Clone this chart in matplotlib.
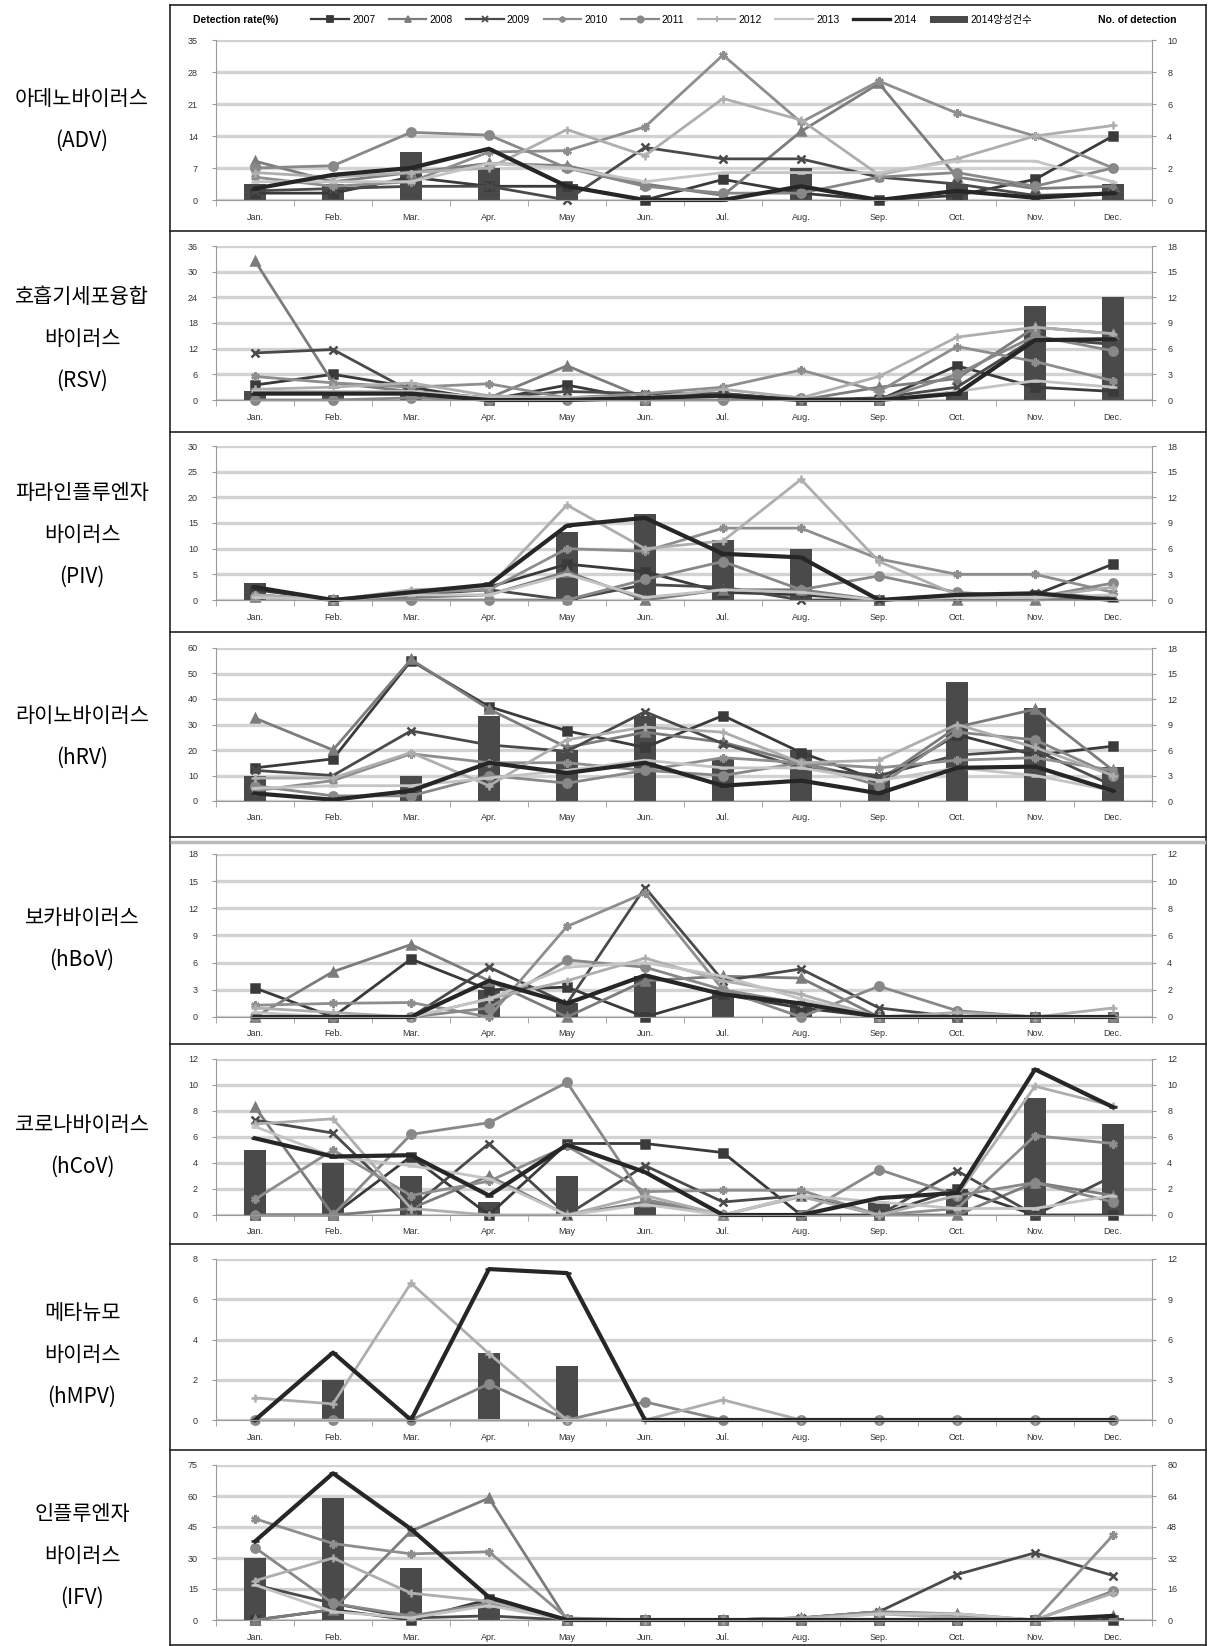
import numpy as np
import matplotlib.pyplot as plt
from matplotlib.lines import Line2D
from matplotlib.patches import Patch

plt.rcParams['font.family'] = ['Liberation Sans', 'Noto Sans CJK KR', 'DejaVu Sans']

na = np.nan
months = ['Jan.', 'Feb.', 'Mar.', 'Apr.', 'May', 'Jun.', 'Jul.', 'Aug.', 'Sep.', 'Oct.', 'Nov.', 'Dec.']
years = ['2007', '2008', '2009', '2010', '2011', '2012', '2013', '2014']
bar_label = '2014양성건수'

# detection rate (%) per year, rows 2007..2014
adv_rates = [
    [1.5, 1.5, 5, 3, 3, 0, 4.5, 1.5, 0, 1, 4.5, 14],
    [8.5, 4, 6, 8, 7.5, 3.5, 1, 15, 25.5, 5, 2.5, 3],
    [2, 2.5, 3, 3, 0, 11.5, 9, 9, 5, 3.5, 1, 1.5],
    [5, 3, 4, 10.5, 10.8, 16, 31.7, 17, 26, 19, 14, 7],
    [7, 7.5, 14.8, 14.2, 7, 3, 1.5, 1.5, 5, 6, 3, 7],
    [6, 5, 6, 7, 15.4, 9.7, 22.2, 17.5, 5.5, 9, 14, 16.3],
    [4, 4, 4, 8, 7, 4, 6, 6, 6, 8.5, 8.5, 4],
    [2.5, 5.5, 7, 11.2, 3, 0, 0, 3, 0, 2, 0.5, 1.5],
]
adv_counts = [1, 1, 3, 2, 1, 0, 0, 2, 0, 1, 0, 1]

rsv_rates = [
    [3.5, 6, 3, 0, 3.5, 0, 1.5, 0, 0, 8, 3, 2],
    [32.5, 4, 2, 0.5, 8, 0.5, 1, 0, 3, 5, 17, 15.5],
    [11, 11.8, 2, 0.5, 2, 1.5, 1.5, 0, 0.5, 3, 14.5, 13],
    [5.5, 4, 3, 3.8, 0.5, 1.5, 3, 7, 2, 12.5, 9, 4.5],
    [0, 0, 0.5, 0, 0, 0, 0, 0.5, 0, 6, 15, 11.5],
    [2.5, 3, 4, 1, 0.5, 0.5, 2.5, 0.5, 5.5, 14.7, 17, 15.5],
    [2, 2, 2, 0.5, 0.5, 0.5, 1, 0, 0, 2, 4.5, 3],
    [1.5, 1.5, 1.5, 0, 0, 0.5, 1, 0, 0, 1.5, 14, 14.2],
]
rsv_counts = [1, 1, 1, 0, 0, 0, 0, 0, 0, 1, 11, 12]

piv_rates = [
    [2, 0, 1, 2.5, 7, 5.5, 1.5, 1, 0, 1, 1, 7],
    [0.5, 0, 0.5, 1, 5.5, 0, 2, 2, 0, 0, 0, 0.5],
    [1, 0, 1, 2, 0, 3, 2.5, 0, 0, 0.5, 1.3, 0.5],
    [1, 0, 1.5, 2, 10, 9.5, 14, 14, 8, 5, 5, 1.5],
    [0.5, 0, 0, 0, 0, 4, 7.5, 2, 4.7, 1.5, 0.5, 3.3],
    [1, 0, 2, 2.5, 18.5, 10, 11.5, 23.5, 7.5, 1, 0.5, 2.5],
    [0.5, 0, 1, 1, 5, 0.5, 2, 1.5, 0, 0.5, 0.5, 1],
    [2.5, 0, 1.5, 3, 14.5, 16, 9, 8.3, 0, 1, 1.3, 0],
]
piv_counts = [2, 0, 0, 0, 8, 10, 7, 6, 0, 0, 0, 0]

hrv_rates = [
    [13, 16.5, 55, 37, 27.5, 21, 33.5, 19, 8, 26, 18, 21.5],
    [32.5, 20, 55.5, 36, 21, 27, 23, 15, 8, 29, 36, 12],
    [12, 10, 27.5, 22, 19.5, 35, 22.5, 13, 10, 18, 20, 6],
    [4, 8, 18.5, 15, 15, 12, 17, 15, 13, 16, 17, 12],
    [6, 2, 2, 10, 7, 12, 10, 15, 6, 27, 24, 10],
    [9, 9, 19, 6, 24, 29, 27, 15, 16, 30, 21, 10],
    [5, 6, 6, 9, 12, 16, 13, 13, 8, 13, 10, 4],
    [3, 0.5, 4, 15, 11, 15, 6, 8, 3, 13, 13.5, 4],
]
hrv_counts = [3, 0, 3, 10, 6, 10, 5, 6, 3, 14, 11, 4]

hbov_rates = [
    [3.2, 0, 6.4, 3, 3.3, 0, 2.5, 1, 0, 0, 0, 0],
    [0, 5, 8, 4, 0, 4, 4.5, 4.3, 0, 0, 0, 0],
    [0, 0, 0, 5.5, 1.5, 14.3, 4, 5.3, 1, 0, 0, 0],
    [1.3, 1.5, 1.6, 0, 10, 13.7, 3, 1.5, 0, 0, 0, 0],
    [0, 0, 0, 1, 6.3, 5.5, 3, 0, 3.4, 0.7, 0, 0],
    [1, 0.5, 0, 2, 4, 6.5, 4, 2.5, 0, 0.5, 0, 1],
    [0.5, 0, 0, 2, 5.5, 6, 4.5, 2, 0, 0, 0, 0],
    [0, 0, 0, 4, 1.5, 4.6, 2.5, 1.5, 0, 0, 0, 0],
]
hbov_counts = [0, 0, 0, 2, 1, 3, 2, 1, 0, 0, 0, 0]

hcov_rates = [
    [0, 0, 4.5, 0, 5.5, 5.5, 4.8, 0, 0, 2, 0, 0],
    [8.3, 0, 0.5, 3, 0, 1, 0, 1.5, 0, 0, 2.5, 1.5],
    [7.3, 6.3, 0.5, 5.5, 0, 3.8, 1, 1.5, 0, 3.4, 0, 3],
    [1.2, 5, 1.5, 2.6, 5.3, 1.8, 1.9, 1.9, 0, 0.5, 6.1, 5.5],
    [0, 0, 6.2, 7.1, 10.2, 1.2, 0, 0, 3.5, 1.5, 2.5, 1],
    [7, 7.4, 0.5, 0, 0, 1.5, 0, 1.4, 0, 1.5, 9.9, 8.4],
    [6.8, 4.5, 3.8, 2.8, 0, 0.8, 0, 1.5, 1, 0.5, 0.5, 1.5],
    [5.9, 4.5, 4.6, 1.5, 5.4, 3.3, 0, 0, 1.3, 1.7, 11.2, 8.3],
]
hcov_counts = [5, 4, 3, 1, 3, 1, 0, 0, 1, 2, 9, 7]

hmpv_rates = [
    [na] * 12,
    [na] * 12,
    [na] * 12,
    [na] * 12,
    [0, 0, 0, 1.8, 0, 0.9, 0, 0, 0, 0, 0, 0],
    [1.1, 0.8, 6.8, 3.3, 0, 0, 1, 0, 0, 0, 0, 0],
    [0, 0, 0, 0, 0, 0, 0, 0, 0, 0, 0, 0],
    [0, 3.35, 0, 7.5, 7.3, 0, 0, 0, 0, 0, 0, 0],
]
hmpv_counts = [0, 3, 0, 5, 4, 0, 0, 0, 0, 0, 0, 0]

ifv_rates = [
    [0, 5, 0, 10, 0, 0, 0, 0, 0, 0, 0, 0],
    [0, 5, 43, 59, 0, 0, 0, 1, 4, 3, 0, 2],
    [17, 8, 1, 2, 0, 0, 0, 1, 4, 22, 32.5, 21.5],
    [49, 37, 32, 33, 1, 0, 0, 1, 4, 2, 0, 41],
    [35, 8, 2, 8, 0, 0, 0, 0, 0, 0, 0, 14],
    [19, 30, 13, 9, 0, 0, 0, 1, 3, 1, 0, 13],
    [17, 4, 1, 7, 0, 0, 0, 0, 3, 3, 0, 2],
    [38, 71, 44, 11, 0, 0, 0, 0, 0, 0, 0, 2],
]
ifv_counts = [32, 63, 27, 9, 0, 0, 0, 0, 0, 0, 0, 1]

# label, rates, counts, left max/step, right max/step
panels = [
    ('아데노바이러스\n(ADV)', adv_rates, adv_counts, 35, 7, 10, 2),
    ('호흡기세포융합\n바이러스\n(RSV)', rsv_rates, rsv_counts, 36, 6, 18, 3),
    ('파라인플루엔자\n바이러스\n(PIV)', piv_rates, piv_counts, 30, 5, 18, 3),
    ('라이노바이러스\n(hRV)', hrv_rates, hrv_counts, 60, 10, 18, 3),
    ('보카바이러스\n(hBoV)', hbov_rates, hbov_counts, 18, 3, 12, 2),
    ('코로나바이러스\n(hCoV)', hcov_rates, hcov_counts, 12, 2, 12, 2),
    ('메타뉴모\n바이러스\n(hMPV)', hmpv_rates, hmpv_counts, 8, 2, 12, 3),
    ('인플루엔자\n바이러스\n(IFV)', ifv_rates, ifv_counts, 75, 15, 80, 16),
]

line_colors = ['#3a3a3a', '#7c7c7c', '#4a4a4a', '#8e8e8e', '#888888', '#aeaeae', '#c4c4c4', '#262626']
markers = ['s', '^', 'x', (6, 2, 0), 'o', '+', '_', '_']
widths = [2.0, 2.0, 2.0, 2.0, 2.0, 2.0, 2.0, 3.0]
bar_color = '#4a4a4a'

W, H = 1208, 1646
ax_left, ax_right = 216, 1152
axes_px = [(40, 200), (246, 400), (446, 600), (648, 801),
           (854, 1017), (1059, 1215), (1259, 1420), (1465, 1620)]
label_y = [120, 339, 535, 737, 939, 1146, 1355, 1556]
separators = [5, 231, 432, 632, 837, 1044, 1244, 1450, 1645]

fig = plt.figure(figsize=(W / 100, H / 100), dpi=100)
x = np.arange(12)

for i, (name, rates, counts, lmax, lstep, rmax, rstep) in enumerate(panels):
    top, bot = axes_px[i]
    rect = [ax_left / W, 1 - bot / H, (ax_right - ax_left) / W, (bot - top) / H]
    ax = fig.add_axes(rect)
    ax2 = ax.twinx()
    ax.set_zorder(ax2.get_zorder() + 1)
    ax.patch.set_visible(False)

    # 2014 positive counts on the right axis
    ax2.bar(x, counts, width=0.27, color=bar_color, zorder=2)
    ax2.set_ylim(0, rmax)
    ax2.set_yticks(np.arange(0, rmax + 0.01, rstep))
    ax2.yaxis.grid(True, color='#d2d2d2', lw=2.4, zorder=0)
    ax2.set_axisbelow(True)

    for k in range(len(years)):
        ax.plot(x, rates[k], color=line_colors[k], marker=markers[k], ms=6,
                mew=1.8, lw=widths[k], clip_on=False)

    ax.set_xlim(-0.5, 11.5)
    ax.set_ylim(0, lmax)
    ax.set_yticks(np.arange(0, lmax + 0.01, lstep))
    ax.set_xticks(x)
    ax.set_xticklabels(months)
    ax.set_xticks(np.arange(-0.5, 12, 1), minor=True)
    ax.tick_params(axis='x', which='major', length=0, pad=9, labelsize=6.5, colors='#333333')
    ax.tick_params(axis='x', which='minor', length=4, color='#999999')
    ax.tick_params(axis='y', length=3, color='#999999', pad=10, labelsize=6.5, labelcolor='#333333')
    ax2.tick_params(axis='y', length=3, color='#999999', pad=8, labelsize=6.5, labelcolor='#333333')

    for s in ['top', 'right']:
        ax.spines[s].set_visible(False)
    for s in ['left', 'bottom']:
        ax.spines[s].set_color('#999999')
    for s in ['top', 'left', 'bottom']:
        ax2.spines[s].set_visible(False)
    ax2.spines['right'].set_color('#999999')

    fig.text(82 / W, 1 - label_y[i] / H, name, ha='center', va='center',
             fontsize=15, linespacing=2.15, family=['Noto Sans CJK KR', 'DejaVu Sans'])

# panel frames
for y in separators:
    fig.add_artist(Line2D([170 / W, 1206 / W], [1 - y / H] * 2, color='#222222', lw=1.2))
for xv in [170, 1206]:
    fig.add_artist(Line2D([xv / W] * 2, [1 - 5 / H, 1 - 1645 / H], color='#222222', lw=1.2))
fig.add_artist(Line2D([172 / W, 1204 / W], [1 - 842 / H] * 2, color='#bbbbbb', lw=2.5))

# legend row
handles = [Line2D([], [], color=line_colors[k], marker=markers[k], ms=4.5, mew=1.3,
                  lw=widths[k] * 0.8) for k in range(len(years))]
handles.append(Patch(facecolor=bar_color))
fig.legend(handles, years + [bar_label], loc='center', bbox_to_anchor=(672 / W, 1 - 20 / H),
           ncol=9, frameon=False, fontsize=7.5, handlelength=3.6, handletextpad=0.3,
           columnspacing=1.3)
fig.text(193 / W, 1 - 20 / H, 'Detection rate(%)', ha='left', va='center',
         fontsize=7.5, fontweight='bold')
fig.text(1177 / W, 1 - 20 / H, 'No. of detection', ha='right', va='center',
         fontsize=7.5, fontweight='bold')

fig.savefig('out.png', dpi=100)
